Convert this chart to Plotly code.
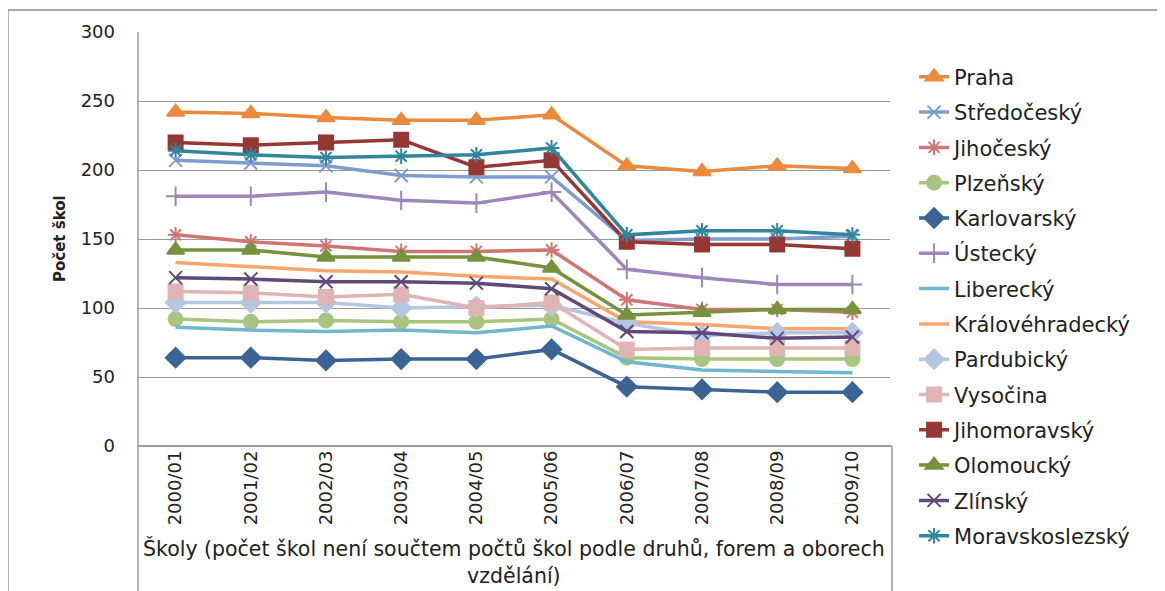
import plotly.graph_objects as go

roky = ["2000/01", "2001/02", "2002/03", "2003/04", "2004/05",
        "2005/06", "2006/07", "2007/08", "2008/09", "2009/10"]

praha = [242, 241, 238, 236, 236, 240, 203, 199, 203, 201]
stredocesky = [207, 205, 203, 196, 195, 195, 149, 150, 150, 152]
jihocesky = [153, 148, 145, 141, 141, 142, 106, 99, 99, 97]
plzensky = [92, 90, 91, 90, 90, 92, 64, 63, 63, 63]
karlovarsky = [64, 64, 62, 63, 63, 70, 43, 41, 39, 39]
ustecky = [181, 181, 184, 178, 176, 184, 128, 122, 117, 117]
liberecky = [86, 84, 83, 84, 82, 87, 61, 55, 54, 53]
kralovehradecky = [133, 130, 127, 126, 123, 121, 90, 88, 85, 85]
pardubicky = [104, 104, 104, 100, 101, 102, 89, 80, 82, 82]
vysocina = [112, 111, 108, 110, 100, 104, 70, 71, 71, 71]
jihomoravsky = [220, 218, 220, 222, 202, 207, 148, 146, 146, 143]
olomoucky = [142, 142, 137, 137, 137, 129, 95, 97, 99, 99]
zlinsky = [122, 121, 119, 119, 118, 114, 83, 82, 78, 79]
moravskoslezsky = [214, 211, 209, 210, 211, 216, 153, 156, 156, 153]

# (název, hodnoty, barva, symbol, velikost)
kraje = [
    ("Praha", praha, "#EB8A3C", "triangle-up", 15),
    ("Středočeský", stredocesky, "#7E9CCE", "x-thin-open", 13),
    ("Jihočeský", jihocesky, "#CF7673", "asterisk-open", 13),
    ("Plzeňský", plzensky, "#A9C47F", "circle", 14),
    ("Karlovarský", karlovarsky, "#3A6495", "diamond", 15),
    ("Ústecký", ustecky, "#9D87BA", "cross-thin-open", 14),
    ("Liberecký", liberecky, "#70B6CF", None, 0),
    ("Královéhradecký", kralovehradecky, "#F9A66C", None, 0),
    ("Pardubický", pardubicky, "#B4C6E0", "diamond", 15),
    ("Vysočina", vysocina, "#E0B4B3", "square", 14),
    ("Jihomoravský", jihomoravsky, "#953735", "square", 14),
    ("Olomoucký", olomoucky, "#76923C", "triangle-up", 15),
    ("Zlínský", zlinsky, "#5F497A", "x-thin-open", 13),
    ("Moravskoslezský", moravskoslezsky, "#31859C", "asterisk-open", 13),
]

FONT = "DejaVu Sans"
TEXT = "#222222"

fig = go.Figure()
for nazev, hodnoty, barva, symbol, vel in kraje:
    if symbol:
        mode = "lines+markers"
        marker = dict(symbol=symbol, size=vel, color=barva,
                      line=dict(color=barva, width=2))
    else:
        mode = "lines"
        marker = None
    fig.add_trace(go.Scatter(
        x=roky, y=hodnoty, name=nazev, mode=mode, legendgroup=nazev,
        line=dict(color=barva, width=3.5), marker=marker,
    ))

seda = "#9a9a9a"
# stránka má 8px okraj, proto je vše posunuto o 8 px vlevo a nahoru
fig.update_layout(
    width=1165, height=591,
    margin=dict(l=130, r=283, t=24, b=153, autoexpand=False),
    paper_bgcolor="white", plot_bgcolor="white",
    font=dict(family=FONT, color=TEXT),
    showlegend=True,
    legend=dict(x=1.032, y=0.9405, xanchor="left", yanchor="top",
                font=dict(family=FONT, size=21, color=TEXT),
                tracegroupgap=5, maxheight=560, bgcolor="rgba(0,0,0,0)"),
    xaxis=dict(type="category", range=[-0.5, 9.5], showgrid=False,
               showline=False, zeroline=False, tickangle=-90,
               automargin=False,
               tickfont=dict(family=FONT, size=18, color=TEXT)),
    yaxis=dict(range=[0, 300], dtick=50, showgrid=True, gridcolor=seda,
               gridwidth=1, zeroline=True, zerolinecolor=seda,
               showline=False, ticklabelstandoff=22, automargin=False,
               tickfont=dict(family=FONT, size=18, color=TEXT)),
    annotations=[
        dict(text="Školy (počet škol není součtem počtů škol podle druhů, forem a oborech<br>vzdělání)",
             x=0.5, y=-0.28, xref="paper", yref="paper", showarrow=False,
             xanchor="center", yanchor="middle",
             font=dict(family=FONT, size=20.5, color=TEXT)),
        dict(text="<b>Počet škol</b>", textangle=-90,
             x=-0.1037, y=0.5, xref="paper", yref="paper", showarrow=False,
             xanchor="center", yanchor="middle",
             font=dict(family=FONT, size=15, color=TEXT)),
    ],
    shapes=[
        # vnější rámeček grafu
        dict(type="line", xref="paper", yref="paper", x0=-0.173, x1=1.4,
             y0=1.0531, y1=1.0531, line=dict(color="#8c8c8c", width=1.5)),
        dict(type="line", xref="paper", yref="paper", x0=-0.173, x1=-0.173,
             y0=1.0531, y1=-0.4, line=dict(color="#8c8c8c", width=1.5)),
        # rámeček oblasti grafu
        dict(type="line", xref="paper", yref="paper", x0=0, x1=0,
             y0=1, y1=-0.4, line=dict(color=seda, width=1.5)),
        dict(type="line", xref="paper", yref="paper", x0=1.0027, x1=1.0027,
             y0=0, y1=-0.4, line=dict(color=seda, width=1.5)),
        dict(type="line", xref="paper", yref="paper", x0=0, x1=1.0027,
             y0=0, y1=0, line=dict(color=seda, width=1.5)),
    ],
)

fig.write_html("out.html")
